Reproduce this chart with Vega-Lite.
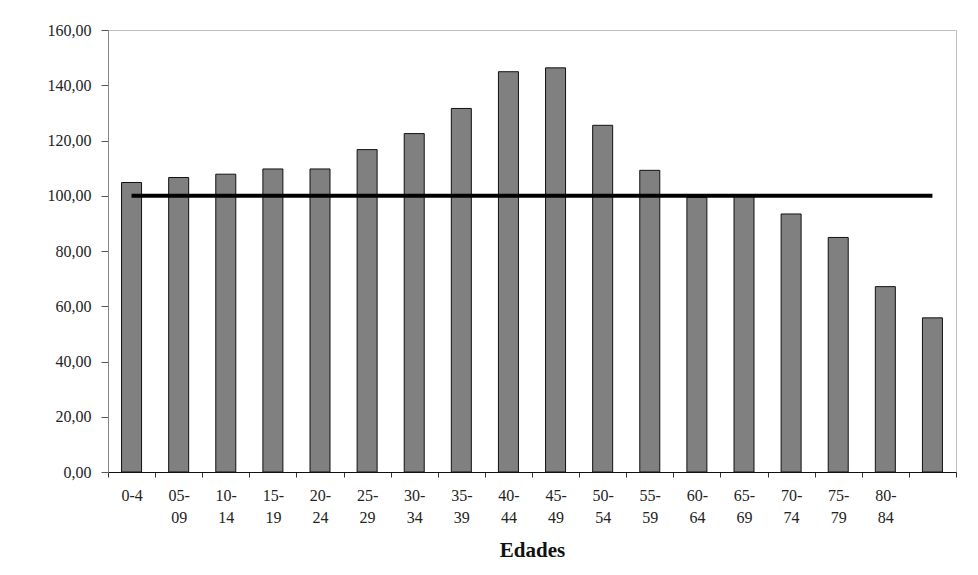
{
  "$schema": "https://vega.github.io/schema/vega-lite/v6.json",
  "autosize": {"type": "none"},
  "padding": {"left": 108, "top": 30, "right": 22, "bottom": 103},
  "width": 848,
  "height": 442,
  "background": "white",
  "config": {
    "font": "Liberation Serif",
    "view": {"stroke": "#c0c0c0", "strokeWidth": 1}
  },
  "data": {
    "values": [
      {"edad": "0-4", "valor": 104.8, "ref": 100},
      {"edad": "05-09", "valor": 106.6, "ref": 100},
      {"edad": "10-14", "valor": 107.8, "ref": 100},
      {"edad": "15-19", "valor": 109.7, "ref": 100},
      {"edad": "20-24", "valor": 109.7, "ref": 100},
      {"edad": "25-29", "valor": 116.7, "ref": 100},
      {"edad": "30-34", "valor": 122.5, "ref": 100},
      {"edad": "35-39", "valor": 131.6, "ref": 100},
      {"edad": "40-44", "valor": 144.9, "ref": 100},
      {"edad": "45-49", "valor": 146.3, "ref": 100},
      {"edad": "50-54", "valor": 125.5, "ref": 100},
      {"edad": "55-59", "valor": 109.2, "ref": 100},
      {"edad": "60-64", "valor": 99.4, "ref": 100},
      {"edad": "65-69", "valor": 100.1, "ref": 100},
      {"edad": "70-74", "valor": 93.4, "ref": 100},
      {"edad": "75-79", "valor": 84.9, "ref": 100},
      {"edad": "80-84", "valor": 67.1, "ref": 100},
      {"edad": "85+", "valor": 55.8, "ref": 100}
    ]
  },
  "layer": [
    {
      "mark": {"type": "bar", "width": 20, "color": "#808080", "stroke": "#111", "strokeWidth": 1},
      "encoding": {
        "x": {
          "field": "edad",
          "type": "ordinal",
          "sort": null,
          "scale": {"paddingInner": 0, "paddingOuter": 0},
          "axis": {
            "title": "Edades",
            "titleFontSize": 21,
            "titleFontWeight": "bold",
            "titleColor": "#111",
            "titlePadding": 14,
            "labelAngle": 0,
            "labelFontSize": 16,
            "labelColor": "#222",
            "labelPadding": 10,
            "labelLineHeight": 22,
            "labelOverlap": false,
            "labelExpr": "datum.label == '85+' ? '' : (length(datum.label) > 3 ? [substring(datum.label, 0, 3), substring(datum.label, 3)] : datum.label)",
            "tickBand": "extent",
            "tickSize": 5,
            "tickColor": "#333",
            "domainColor": "#111",
            "grid": false
          }
        },
        "y": {
          "field": "valor",
          "type": "quantitative",
          "scale": {"domain": [0, 160], "nice": false},
          "axis": {
            "title": null,
            "values": [0, 20, 40, 60, 80, 100, 120, 140, 160],
            "labelExpr": "replace(format(datum.value, '.2f'), '.', ',')",
            "labelFontSize": 16,
            "labelColor": "#222",
            "labelPadding": 10,
            "tickSize": 7,
            "tickColor": "#555",
            "domainColor": "#888",
            "grid": false
          }
        }
      }
    },
    {
      "mark": {"type": "line", "color": "black", "strokeWidth": 4},
      "encoding": {
        "x": {"field": "edad", "type": "ordinal", "sort": null},
        "y": {"field": "ref", "type": "quantitative"}
      }
    }
  ]
}
